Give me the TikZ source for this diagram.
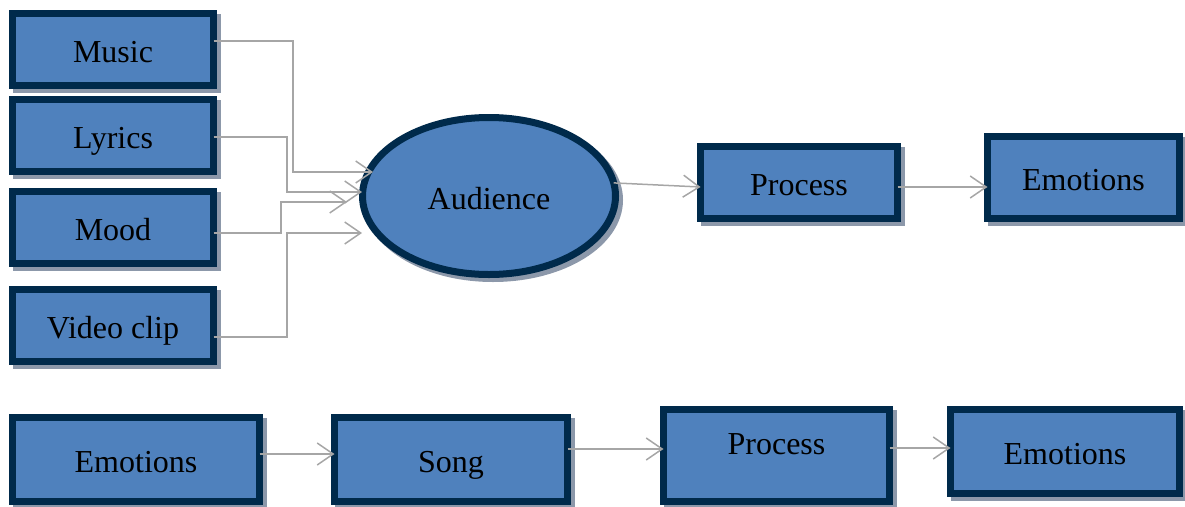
\documentclass[tikz,border=0pt]{standalone}
\usepackage{fontspec}
\setmainfont{Liberation Serif}
\usetikzlibrary{arrows.meta,shapes.geometric,calc}
\definecolor{boxfill}{RGB}{79,129,189}
\definecolor{boxline}{RGB}{0,42,75}
\definecolor{shade}{RGB}{140,152,170}
\definecolor{conncol}{RGB}{166,166,166}
\begin{document}
\begin{tikzpicture}[x=1pt,y=-1pt,
 every node/.style={font=\fontsize{32}{37}\selectfont, text height=26pt, text depth=0pt},
 shadowed/.style={preaction={draw=shade,fill=shade,line width=7pt,transform canvas={shift={(4pt,-4pt)}}}},
 box/.style={shadowed, draw=boxline, fill=boxfill, line width=7pt, rectangle, inner sep=0pt, outer sep=0pt},
 oval/.style={shadowed, ellipse, draw=boxline, fill=boxfill, line width=7pt, inner sep=0pt, outer sep=0pt, minimum width=253, minimum height=157},
 conn/.style={draw=conncol, line width=1.5pt, -{Straight Barb[length=16pt,width=22pt]}}
]
\useasboundingbox (0,0) rectangle (1185,506);

% left column
\node[box, minimum width=201, minimum height=72] (m1) at (113,49.5) {Music};
\node[box, minimum width=201, minimum height=72] (m2) at (113,135.5) {Lyrics};
\node[box, minimum width=201, minimum height=72] (m3) at (113,227.5) {Mood};
\node[box, minimum width=201, minimum height=72] (m4) at (113,325.5) {Video clip};

% audience
\node[oval] (aud) at (489,196) {Audience};

% top right
\node[box, minimum width=197, minimum height=72] (proc) at (799,182.5) {Process};
\node[box, minimum width=192, minimum height=82] (emo1) at (1083.5,177.5) {Emotions};

% bottom row
\node[box, minimum width=247, minimum height=84] (e2) at (136,459.5) {Emotions};
\node[box, minimum width=233, minimum height=84] (song) at (451,459.5) {Song};
\node[box, minimum width=226, minimum height=92, label={[yshift=14pt]center:Process}] (p2) at (776.5,455.5) {};
\node[box, minimum width=229, minimum height=84] (e3) at (1065,451.5) {Emotions};

% arrow tips at the audience
\coordinate (t1) at (373,172);
\coordinate (t2) at (362,192);
\coordinate (t3) at (347,202);
\coordinate (t4) at (362,233);

\draw[conn] (m1.east |- 0,41) -- (293,41) |- (t1);
\draw[conn] (m2.east |- 0,137) -- (287,137) |- (t2);
\draw[conn] (m3.east |- 0,233) -- (281,233) |- (t3);
\draw[conn] (m4.east |- 0,337) -- (287,337) |- (t4);

\draw[conn] (aud.6) -- ($(proc.west)+(0,4.5)$);
\draw[conn] (proc.east |- 0,187) -- (emo1.west |- 0,187);

\draw[conn] (e2.east |- 0,454) -- (song.west |- 0,454);
\draw[conn] (song.east |- 0,449) -- (p2.west |- 0,449);
\draw[conn] (p2.east |- 0,448) -- (e3.west |- 0,448);
\end{tikzpicture}
\end{document}
